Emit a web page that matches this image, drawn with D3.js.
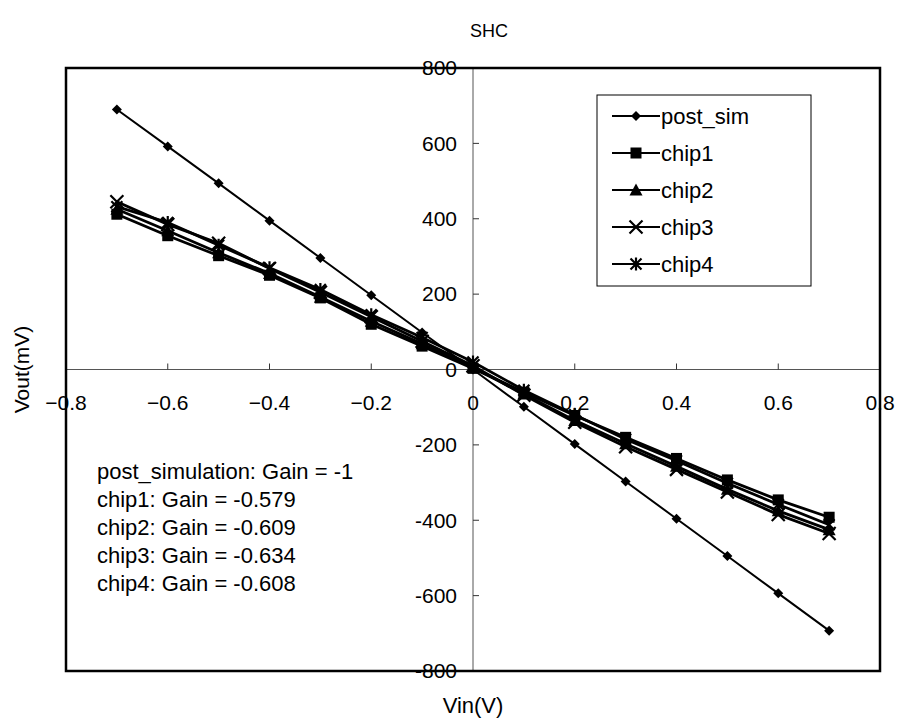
<!DOCTYPE html>
<html>
<head>
<meta charset="utf-8">
<script src="https://cdn.jsdelivr.net/npm/d3@7"></script>
<style>
  body { margin: 0; background: #fff; }
  text { font-family: Arial, "Liberation Sans", sans-serif; fill: #000; }
</style>
</head>
<body>
<div id="chart"></div>
<script>
// Data
const vin = [-0.7, -0.6, -0.5, -0.4, -0.3, -0.2, -0.1, 0, 0.1, 0.2, 0.3, 0.4, 0.5, 0.6, 0.7];
const postSim = [690, 592, 494, 395, 296, 197, 98, 0, -99, -198, -297, -396, -495, -594, -693];
const chip1 = [412, 355, 302, 250, 190, 120, 62, 3, -60, -122, -180, -236, -293, -346, -392];
const chip2 = [425, 368, 310, 255, 192, 128, 68, 5, -65, -135, -197, -257, -318, -375, -425];
const chip3 = [445, 385, 335, 268, 205, 140, 75, 10, -68, -140, -205, -265, -325, -385, -435];
const chip4 = [432, 390, 330, 270, 212, 145, 85, 20, -55, -120, -185, -242, -302, -358, -412];
const seriesNames = ['post_sim', 'chip1', 'chip2', 'chip3', 'chip4'];
const seriesValues = [postSim, chip1, chip2, chip3, chip4];
const seriesMarkers = ['diamond', 'square', 'triangle', 'cross', 'star'];
const xTicks = [-0.8, -0.6, -0.4, -0.2, 0, 0.2, 0.4, 0.6, 0.8];
const yTicks = [-800, -600, -400, -200, 0, 200, 400, 600, 800];
const notes = [
    'post_simulation: Gain = -1',
    'chip1: Gain = -0.579',
    'chip2: Gain = -0.609',
    'chip3: Gain = -0.634',
    'chip4: Gain = -0.608'
];

const W = 898, H = 726;
const plot = {left: 66, right: 880, top: 68, bottom: 671};

const svg = d3.select('#chart').append('svg')
    .attr('width', W)
    .attr('height', H);

const x = d3.scaleLinear().domain([-0.8, 0.8]).range([plot.left, plot.right]);
const y = d3.scaleLinear().domain([-800, 800]).range([plot.bottom, plot.top]);

// Title
svg.append('text')
    .attr('x', 489).attr('y', 37)
    .attr('text-anchor', 'middle')
    .style('font-size', '18px')
    .text('SHC');

// Axis lines through origin
svg.append('line')
    .attr('x1', plot.left).attr('x2', plot.right)
    .attr('y1', y(0)).attr('y2', y(0))
    .attr('stroke', '#555').attr('stroke-width', 1);
svg.append('line')
    .attr('x1', x(0)).attr('x2', x(0))
    .attr('y1', plot.top).attr('y2', plot.bottom)
    .attr('stroke', '#555').attr('stroke-width', 1);

// x ticks (pointing up) and labels
xTicks.forEach(t => {
    svg.append('line')
        .attr('x1', x(t)).attr('x2', x(t))
        .attr('y1', y(0)).attr('y2', y(0) - 6)
        .attr('stroke', '#333');
    svg.append('text')
        .attr('x', x(t)).attr('y', y(0) + 40)
        .attr('text-anchor', 'middle')
        .style('font-size', '21px')
        .text(t === 0 ? '0' : d3.format('')(t));
});

// y ticks (pointing right) and labels
yTicks.forEach(t => {
    svg.append('line')
        .attr('x1', x(0)).attr('x2', x(0) + 6)
        .attr('y1', y(t)).attr('y2', y(t))
        .attr('stroke', '#333');
    svg.append('text')
        .attr('x', x(0) - 16).attr('y', y(t))
        .attr('dy', '0.35em')
        .attr('text-anchor', 'end')
        .style('font-size', '21px')
        .text(t);
});

// marker shapes
function drawMarker(g, type, cx, cy, s) {
    if (type === 'diamond') {
        g.append('path')
            .attr('d', `M${cx},${cy - s}L${cx + s},${cy}L${cx},${cy + s}L${cx - s},${cy}Z`)
            .attr('fill', '#000');
    } else if (type === 'square') {
        g.append('rect')
            .attr('x', cx - s).attr('y', cy - s)
            .attr('width', 2 * s).attr('height', 2 * s)
            .attr('fill', '#000');
    } else if (type === 'triangle') {
        g.append('path')
            .attr('d', `M${cx},${cy - s - 1}L${cx + s + 1},${cy + s}L${cx - s - 1},${cy + s}Z`)
            .attr('fill', '#000');
    } else if (type === 'cross') {
        g.append('path')
            .attr('d', `M${cx - s - 1},${cy - s - 1}L${cx + s + 1},${cy + s + 1}M${cx - s - 1},${cy + s + 1}L${cx + s + 1},${cy - s - 1}`)
            .attr('stroke', '#000').attr('stroke-width', 2.2);
    } else if (type === 'star') {
        g.append('path')
            .attr('d', `M${cx - s},${cy - s}L${cx + s},${cy + s}M${cx - s},${cy + s}L${cx + s},${cy - s}M${cx},${cy - s - 1}L${cx},${cy + s + 1}`)
            .attr('stroke', '#000').attr('stroke-width', 2.2);
    }
}

const line = d3.line()
    .x(d => x(d[0]))
    .y(d => y(d[1]));

seriesValues.forEach((vals, i) => {
    const pts = vin.map((v, j) => [v, vals[j]]);
    const g = svg.append('g');
    g.append('path')
        .datum(pts)
        .attr('d', line)
        .attr('fill', 'none')
        .attr('stroke', '#000')
        .attr('stroke-width', i === 0 ? 2 : 2.8);
    pts.forEach(p => drawMarker(g, seriesMarkers[i], x(p[0]), y(p[1]), i === 0 ? 5 : 5.5));
});

// plot border
svg.append('rect')
    .attr('x', plot.left).attr('y', plot.top)
    .attr('width', plot.right - plot.left)
    .attr('height', plot.bottom - plot.top)
    .attr('fill', 'none')
    .attr('stroke', '#000')
    .attr('stroke-width', 2.5);

// legend
const legend = svg.append('g');
legend.append('rect')
    .attr('x', 597).attr('y', 95)
    .attr('width', 214).attr('height', 191)
    .attr('fill', '#fff')
    .attr('stroke', '#000')
    .attr('stroke-width', 1);
seriesNames.forEach((name, i) => {
    const ly = 116 + i * 37;
    legend.append('line')
        .attr('x1', 612).attr('x2', 660)
        .attr('y1', ly).attr('y2', ly)
        .attr('stroke', '#000').attr('stroke-width', 2);
    drawMarker(legend, seriesMarkers[i], 636, ly, i === 0 ? 5 : 5.5);
    legend.append('text')
        .attr('x', 661).attr('y', ly)
        .attr('dy', '0.35em')
        .style('font-size', '22px')
        .text(name);
});

// gain notes
notes.forEach((t, i) => {
    svg.append('text')
        .attr('x', 97).attr('y', 471 + i * 28)
        .attr('dy', '0.35em')
        .style('font-size', '22px')
        .text(t);
});

// axis titles
svg.append('text')
    .attr('x', 473).attr('y', 713)
    .attr('text-anchor', 'middle')
    .style('font-size', '22px')
    .text('Vin(V)');
svg.append('text')
    .attr('transform', `translate(29, ${y(0)}) rotate(-90)`)
    .attr('text-anchor', 'middle')
    .style('font-size', '21px')
    .text('Vout(mV)');
</script>
</body>
</html>
